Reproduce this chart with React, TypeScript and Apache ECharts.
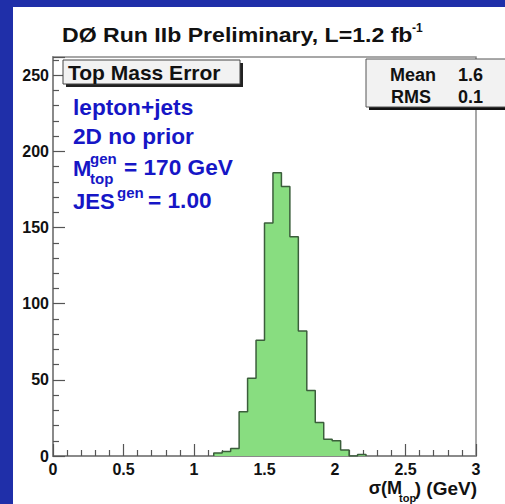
import React, { useEffect, useRef } from "react";
import * as echarts from "echarts";

// Histogram: lower bin edges (GeV) and counts
const binLow = [1.14, 1.2, 1.26, 1.32, 1.38, 1.44, 1.5, 1.56, 1.62, 1.68, 1.74, 1.8, 1.86, 1.92, 1.98, 2.04, 2.1, 2.16];
const counts = [2, 3, 5, 29, 51, 76, 153, 186, 177, 144, 82, 43, 22, 11, 10, 4, 0, 1];
const binWidth = 0.06;

const xTicks = [0, 0.5, 1, 1.5, 2, 2.5, 3];
const yTicks = [0, 50, 100, 150, 200, 250];

const titleText = "DØ Run IIb Preliminary, L=1.2 fb";
const statsLabels = ["Mean", "RMS"];
const statsValues = ["1.6", "0.1"];

const FONT = "Liberation Sans, Arial, Helvetica, sans-serif";
const BLUE = "#1616c6";

export default function App() {
  const ref = useRef<HTMLDivElement>(null);
  useEffect(() => {
    if (!ref.current) return;
    const chart = echarts.init(ref.current, undefined, { renderer: "svg" });

    const data: number[][] = [];
    data.push([binLow[0], 0]);
    for (let i = 0; i < binLow.length; i++) data.push([binLow[i], counts[i]]);
    const lastEdge = binLow[binLow.length - 1] + binWidth;
    data.push([lastEdge, counts[counts.length - 1]]);
    data.push([lastEdge, 0]);

    const axisLabel = {
      fontFamily: FONT,
      fontWeight: "bold" as const,
      fontSize: 16,
      color: "#111",
    };

    const txt = (x: number, y: number, text: string, size: number, color: string, align = "left", scaleX = 1) => ({
      type: "text",
      x,
      y,
      scaleX,
      z: 100,
      style: {
        text,
        fill: color,
        font: `bold ${size}px ${FONT}`,
        textAlign: align,
        textVerticalAlign: "middle",
      },
    });

    chart.setOption({
      animation: false,
      grid: {
        left: 53,
        right: 29,
        top: 57,
        bottom: 48,
        show: true,
        borderColor: "#8a8a8a",
        borderWidth: 1.5,
        backgroundColor: "transparent",
      },
      xAxis: {
        type: "value",
        min: xTicks[0],
        max: xTicks[xTicks.length - 1],
        interval: 0.5,
        axisLine: { lineStyle: { color: "#8a8a8a", width: 2 } },
        axisTick: { inside: true, length: 12, lineStyle: { color: "#555", width: 1.2 } },
        minorTick: { show: true, splitNumber: 5, length: 6, lineStyle: { color: "#555", width: 1.2 } },
        splitLine: { show: false },
        axisLabel: { ...axisLabel, margin: 5 },
      },
      yAxis: {
        type: "value",
        min: yTicks[0],
        max: 262,
        interval: 50,
        axisLine: { show: true, lineStyle: { color: "#8a8a8a", width: 2 } },
        axisTick: { show: true, inside: true, length: 12, lineStyle: { color: "#555", width: 1.2 } },
        minorTick: { show: true, splitNumber: 5, length: 6, lineStyle: { color: "#555", width: 1.2 } },
        splitLine: { show: false },
        axisLabel: { ...axisLabel, margin: 4, showMaxLabel: false },
      },
      series: [
        {
          type: "line",
          step: "end",
          data,
          symbol: "none",
          lineStyle: { color: "#3b5e3b", width: 1.5 },
          areaStyle: { color: "#88dd80", opacity: 1 },
          z: 3,
        },
      ],
      graphic: [
        txt(62, 35, titleText, 21, "#111", "left", 1.1),
        txt(412, 28, "-1", 12, "#111"),
        // title box
        { type: "rect", z: 90, shape: { x: 66, y: 63, width: 177, height: 24 }, style: { fill: "#222" } },
        { type: "rect", z: 91, shape: { x: 63, y: 60, width: 177, height: 24 }, style: { fill: "#f2f2f2", stroke: "#444", lineWidth: 1 } },
        txt(68, 72.5, "Top Mass Error", 21, "#111"),
        // stats box
        { type: "rect", z: 90, shape: { x: 369, y: 63, width: 150, height: 47 }, style: { fill: "#111" } },
        { type: "rect", z: 91, shape: { x: 366, y: 59, width: 150, height: 48 }, style: { fill: "#f2f2f2", stroke: "#555", lineWidth: 1 } },
        txt(390, 75, statsLabels[0], 18, "#111"),
        txt(458, 75, statsValues[0], 18, "#111"),
        txt(391, 97, statsLabels[1], 18, "#111"),
        txt(458, 97, statsValues[1], 18, "#111"),
        // blue annotation
        txt(73, 108, "lepton+jets", 22, BLUE, "left", 1.03),
        txt(73, 137, "2D no prior", 22, BLUE, "left", 1.03),
        txt(73, 168, "M", 22, BLUE),
        txt(90, 158, "gen", 15, BLUE),
        txt(90, 178, "top", 15, BLUE),
        txt(124, 168, "= 170 GeV", 22, BLUE, "left", 1.03),
        txt(73, 201, "JES", 22, BLUE),
        txt(117, 192, "gen", 15, BLUE),
        txt(148, 201, "= 1.00", 22, BLUE, "left", 1.03),
        // x axis title
        txt(402, 488, "σ(M", 18, "#111", "right"),
        txt(399, 498, "top", 11, "#111"),
        txt(477, 488, ") (GeV)", 19, "#111", "right"),
      ],
    });
    return () => chart.dispose();
  }, []);

  return (
    <div style={{ position: "absolute", left: 0, top: 0, width: 505, height: 504, background: "#1f2fa9", overflow: "hidden" }}>
      <div style={{ position: "absolute", left: 13, top: 7, width: 492, height: 497, background: "#fff" }} />
      <div ref={ref} style={{ position: "absolute", left: 0, top: 0, width: 505, height: 504 }} />
    </div>
  );
}
